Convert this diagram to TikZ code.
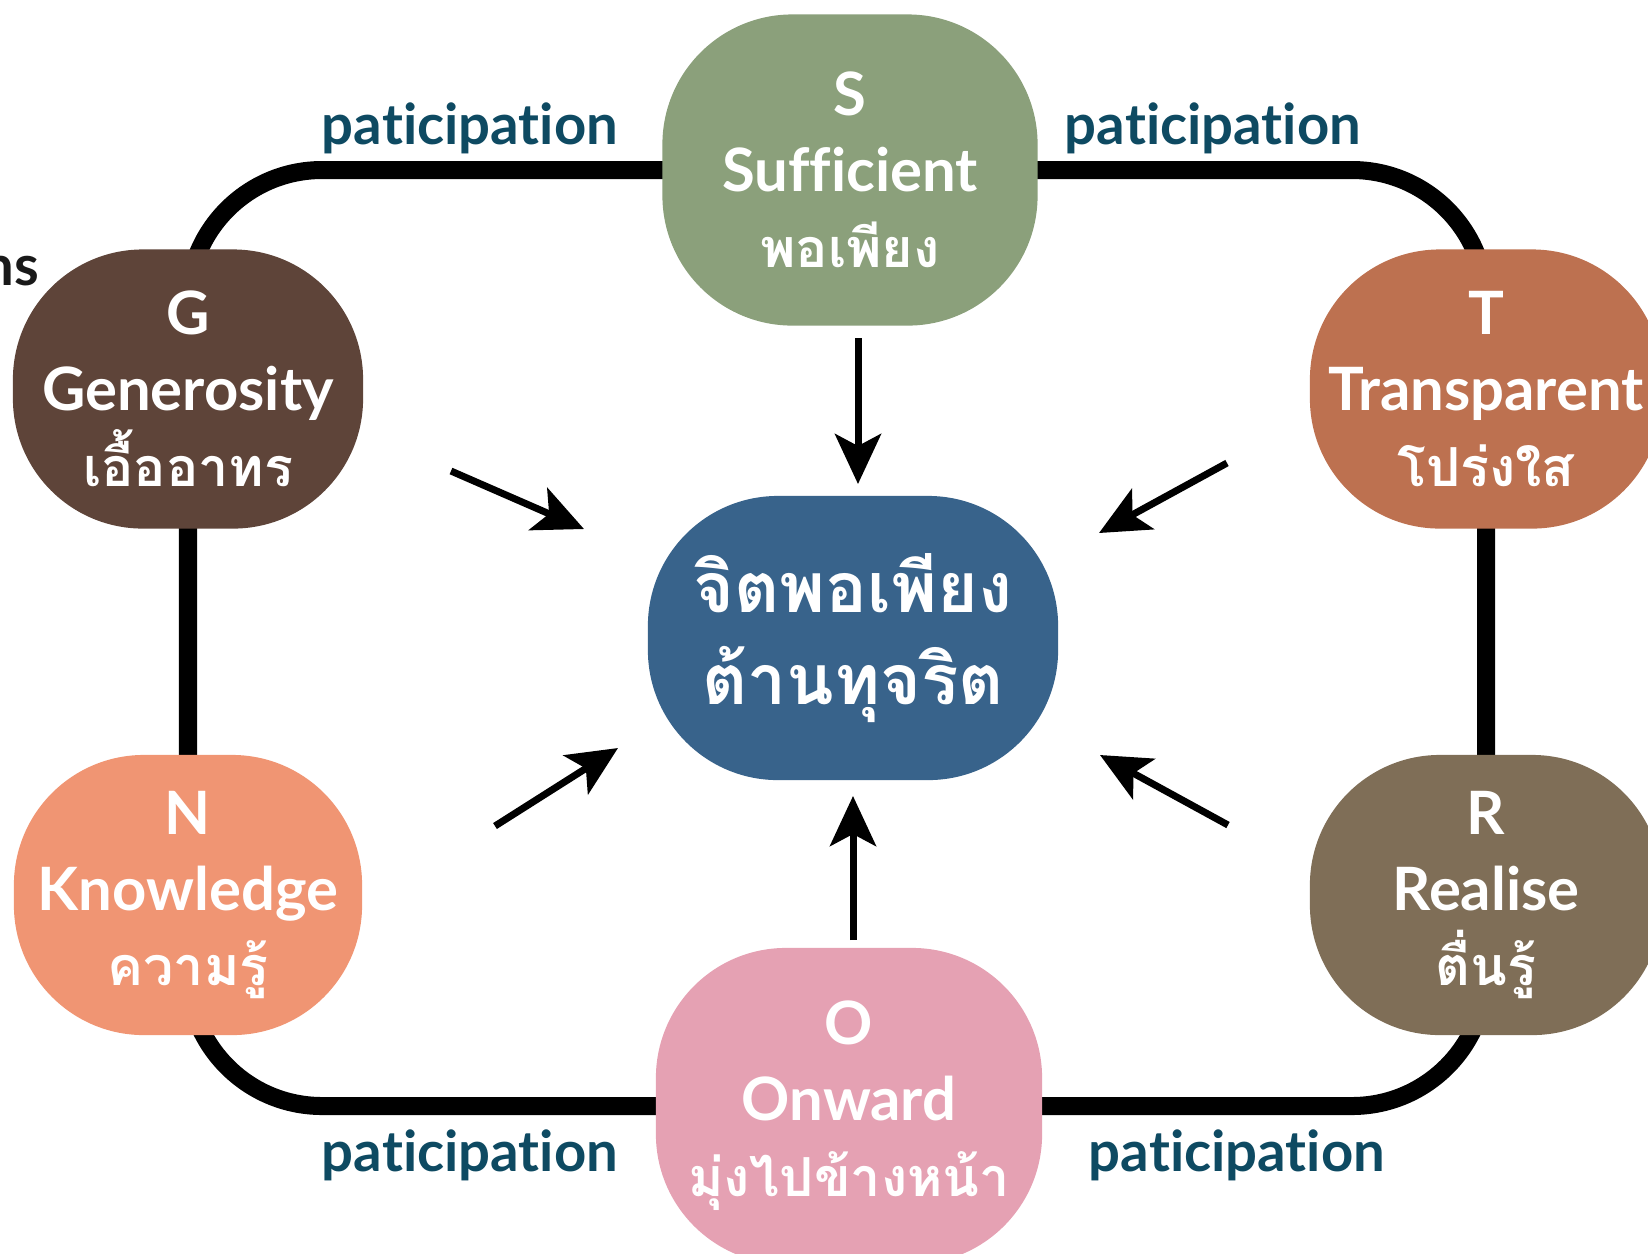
\documentclass[tikz,border=0pt]{standalone}
\usepackage{fontspec}
\setmainfont{Lato}[Ligatures=NoCommon]
\newfontfamily\thai[Script=Thai, Scale=0.9]{Loma}
\usepackage{tikz}
\usetikzlibrary{positioning, arrows.meta, backgrounds}

\definecolor{sage}{HTML}{8BA07B}
\definecolor{cocoa}{HTML}{5E4439}
\definecolor{clay}{HTML}{BD7150}
\definecolor{salmon}{HTML}{F09573}
\definecolor{umber}{HTML}{7F6E57}
\definecolor{rosy}{HTML}{E5A1B3}
\definecolor{navy}{HTML}{38638B}
\definecolor{inkteal}{HTML}{0E4A62}

\begin{document}
\begin{tikzpicture}[x=0.01cm, y=-0.01cm,
  blob/.style={rectangle, rounded corners=1.3cm, text=white, inner sep=0pt,
    align=center, font=\bfseries\fontsize{17}{21.6}\selectfont},
  ring/.style={line width=0.18cm, rounded corners=1.34cm},
  arr/.style={-{Stealth[length=5mm, width=4.6mm, inset=1.2mm]}, line width=0.07cm},
  lbl/.style={text=inkteal, font=\bfseries\fontsize{16}{19}\selectfont}]
\useasboundingbox (0,0) rectangle (1648,1253);

% Outer values
\node[blob, fill=sage, minimum width=3.75cm, minimum height=3.11cm] (s) at (850,170) {S\\Sufficient\\{\thai พอเพียง}};
\node[blob, fill=cocoa, minimum width=3.5cm, minimum height=2.79cm] (g) at (188,389) {G\\Generosity\\{\thai เอื้ออาทร}};
\node[blob, fill=clay, minimum width=3.52cm, minimum height=2.79cm] (t) at (1486,389) {T\\Transparent\\{\thai โปร่งใส}};
\node[blob, fill=salmon, minimum width=3.48cm, minimum height=2.8cm] (n) at (188,895) {N\\Knowledge\\{\thai ความรู้}};
\node[blob, fill=umber, minimum width=3.52cm, minimum height=2.8cm] (r) at (1486,895) {R\\Realise\\{\thai ตื่นรู้}};
\node[blob, fill=rosy, minimum width=3.86cm, minimum height=3.16cm] (o) at (849,1106) {O\\Onward\\{\thai มุ่งไปข้างหน้า}};

% Centre
\node[blob, fill=navy, minimum width=4.1cm, minimum height=2.84cm,
  font=\bfseries\fontsize{22}{26}\selectfont] (c) at (853,638) {{\thai จิตพอเพียง}\\{\thai ต้านทุจริต}};

% Ring behind the values
\begin{scope}[on background layer]
\draw[ring] (g.center) |- (s.center) -| (t.center) -- (r.center) |- (o.center) -| (n.center) -- cycle;
\end{scope}

% Labels
\node[lbl] (p1) at (470,128) {paticipation};
\node[lbl] (p2) at (1213,128) {paticipation};
\node[lbl] (p3) at (470,1155) {paticipation};
\node[lbl] (p4) at (1237,1155) {paticipation};
\node[lbl, text=black!90, anchor=east, inner sep=0pt] (cut) at (40,271) {ns};

% Arrows into the centre
\coordinate (s1) at (858,338); \coordinate (s2) at (858,484);
\coordinate (g1) at (451,471); \coordinate (g2) at (584,529);
\coordinate (t1) at (1227,463); \coordinate (t2) at (1099,533);
\coordinate (n1) at (495,826); \coordinate (n2) at (618,748);
\coordinate (r1) at (1228,825); \coordinate (r2) at (1100,755);
\coordinate (o1) at (853,940); \coordinate (o2) at (853,796);
\foreach \a in {s,g,t,n,r,o}
  \draw[arr] (\a1) -- (\a2);

\end{tikzpicture}
\end{document}
